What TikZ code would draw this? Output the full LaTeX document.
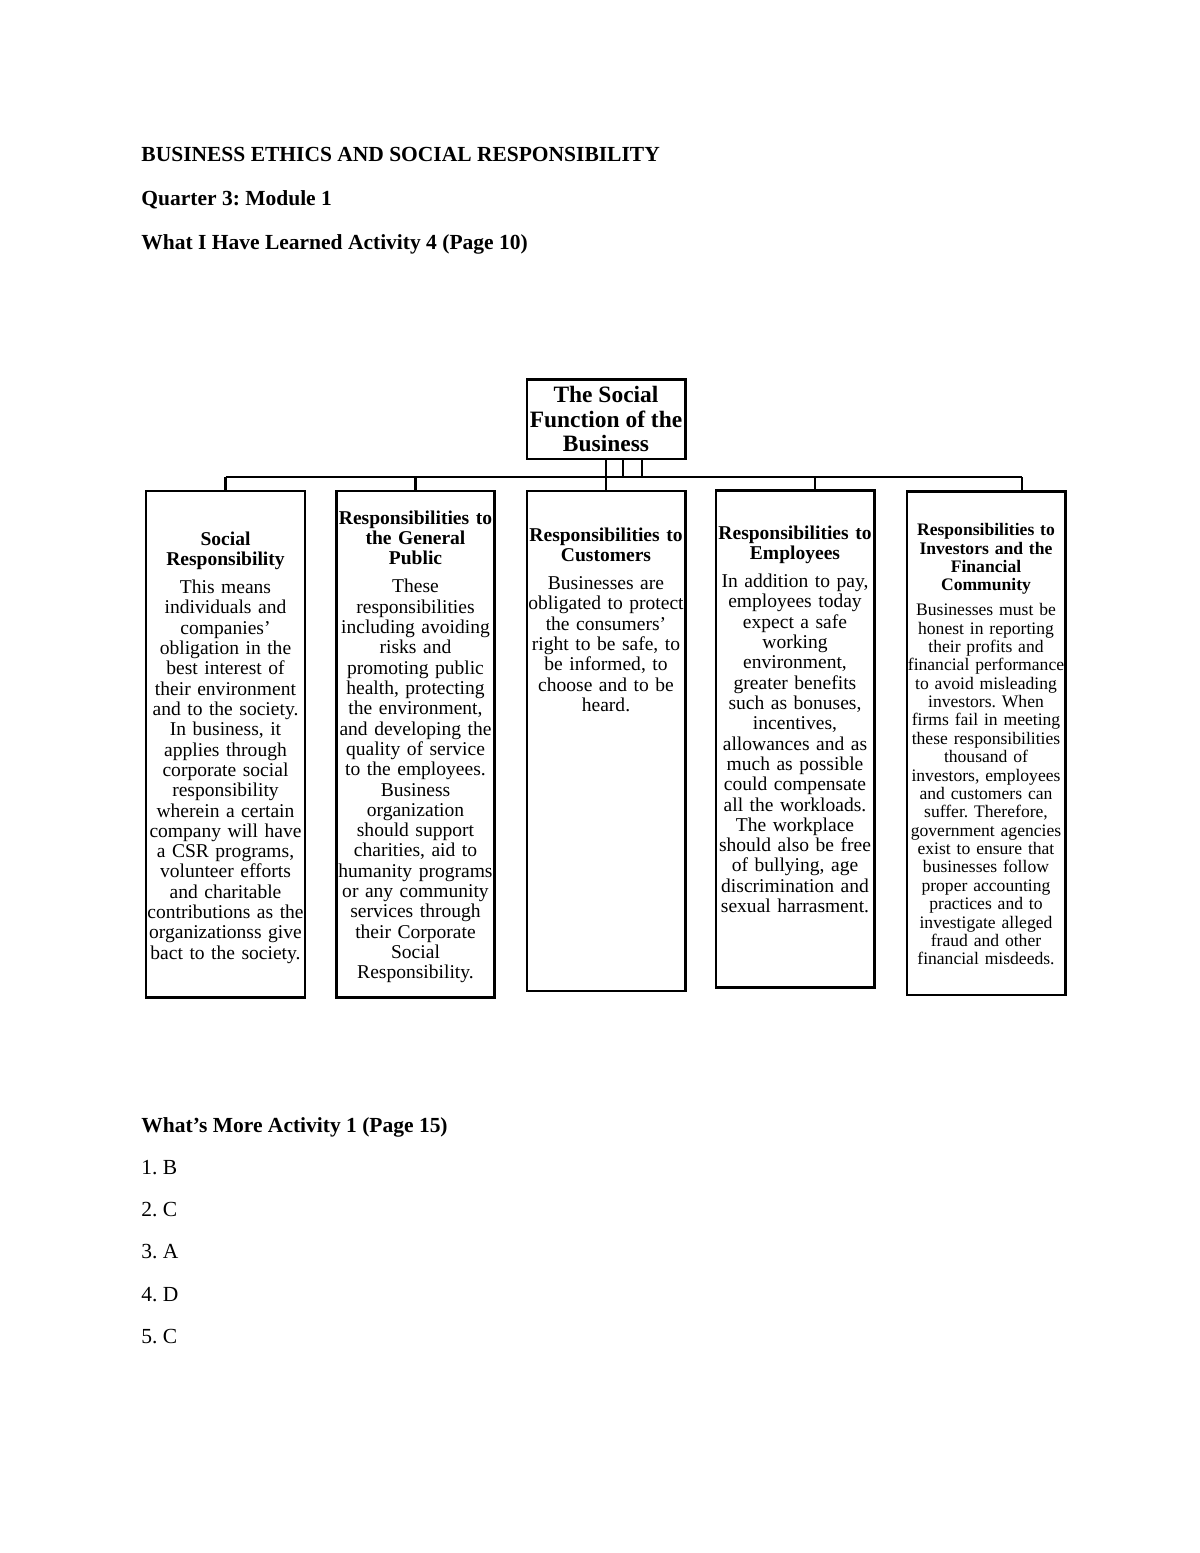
\documentclass[tikz,border=0pt]{standalone}
\usepackage{fontspec}
\setmainfont{Liberation Serif}
\usetikzlibrary{positioning,calc}
\frenchspacing

\begin{document}
\begin{tikzpicture}
[x=0.5118pt, y=-0.5118pt, line width=1.5pt,
box/.style={draw, inner sep=0pt},
head/.style={anchor=base west, inner sep=0pt, font=\bfseries\fontsize{11}{13}\selectfont},
item/.style={anchor=base west, inner sep=0pt, font=\fontsize{11}{13}\selectfont},
body/.style={anchor=north, align=center, inner sep=0pt, text width=95pt, font=\fontsize{10}{10.4}\selectfont},
smallbody/.style={body, font=\fontsize{9}{9.4}\selectfont}]
\useasboundingbox (0,0) rectangle (1200,1553);

\node (h1) at (140,161)[head] {BUSINESS ETHICS AND SOCIAL RESPONSIBILITY};
\node (h2) at (140,205)[head] {Quarter 3: Module 1};
\node (h3) at (140,249)[head] {What I Have Learned Activity 4 (Page 10)};

% chart
\node (b0) at (606,419)[box, minimum width=80.9pt, minimum height=40.9pt, align=center,
  font=\bfseries\fontsize{12}{12.5}\selectfont] {The Social\\Function of the\\Business};

\node (b1) at (225.5,744)[box, minimum width=81.4pt, minimum height=259pt] {};
\node (b2) at (415.5,744)[box, minimum width=80.4pt, minimum height=259pt] {};
\node (b3) at (606,741)[box, minimum width=80.9pt, minimum height=255.9pt] {};
\node (b4) at (795,739)[box, minimum width=80.9pt, minimum height=253.9pt] {};
\node (b5) at (986,743)[box, minimum width=80.9pt, minimum height=257.9pt] {};

\coordinate (busL) at (225.5,477);
\coordinate (busR) at (1022,477);
\coordinate (d4) at (815,477);
\coordinate (e1) at (623,477);
\coordinate (e2) at (642,477);

\draw (b0) -- (b3);
\draw (busL) -- (busR);
\draw (busL) -- (b1);
\draw (b2 |- busL) -- (b2);
\draw (d4) -- (d4 |- b4.north);
\draw (busR) -- (busR |- b5.north);
\draw (e1 |- b0.south) -- (e1);
\draw (e2 |- b0.south) -- (e2);

\node (t1) at (225.5,530)[body] {\textbf{Social\\Responsibility}\\[4pt]
This means\\individuals and\\companies'\\obligation in the\\best interest of\\their environment\\and to the society.\\In business, it\\applies through\\corporate social\\responsibility\\wherein a certain\\company will have\\a CSR programs,\\volunteer efforts\\and charitable\\contributions as the\\organizationss give\\bact to the society.};

\node (t2) at (415.5,509)[body] {\textbf{Responsibilities to\\the General\\Public}\\[4pt]
These\\responsibilities\\including avoiding\\risks and\\promoting public\\health, protecting\\the environment,\\and developing the\\quality of service\\to the employees.\\Business\\organization\\should support\\charities, aid to\\humanity programs\\or any community\\services through\\their Corporate\\Social\\Responsibility.};

\node (t3) at (606,526)[body] {\textbf{Responsibilities to\\Customers}\\[4pt]
Businesses are\\obligated to protect\\the consumers'\\right to be safe, to\\be informed, to\\choose and to be\\heard.};

\node (t4) at (795,524)[body] {\textbf{Responsibilities to\\Employees}\\[4pt]
In addition to pay,\\employees today\\expect a safe\\working\\environment,\\greater benefits\\such as bonuses,\\incentives,\\allowances and as\\much as possible\\could compensate\\all the workloads.\\The workplace\\should also be free\\of bullying, age\\discrimination and\\sexual harrasment.};

\node (t5) at (986,522)[smallbody] {\textbf{Responsibilities to\\Investors and the\\Financial\\Community}\\[3.4pt]
Businesses must be\\honest in reporting\\their profits and\\financial performance\\to avoid misleading\\investors. When\\firms fail in meeting\\these responsibilities\\thousand of\\investors, employees\\and customers can\\suffer. Therefore,\\government agencies\\exist to ensure that\\businesses follow\\proper accounting\\practices and to\\investigate alleged\\fraud and other\\financial misdeeds.};

% answers
\node (h4) at (140,1132)[head] {What’s More Activity 1 (Page 15)};
\node (a1) at (140,1174)[item] {1. B};
\node (a2) at (140,1216)[item] {2. C};
\node (a3) at (140,1258)[item] {3. A};
\node (a4) at (140,1301)[item] {4. D};
\node (a5) at (140,1343)[item] {5. C};

\end{tikzpicture}
\end{document}
